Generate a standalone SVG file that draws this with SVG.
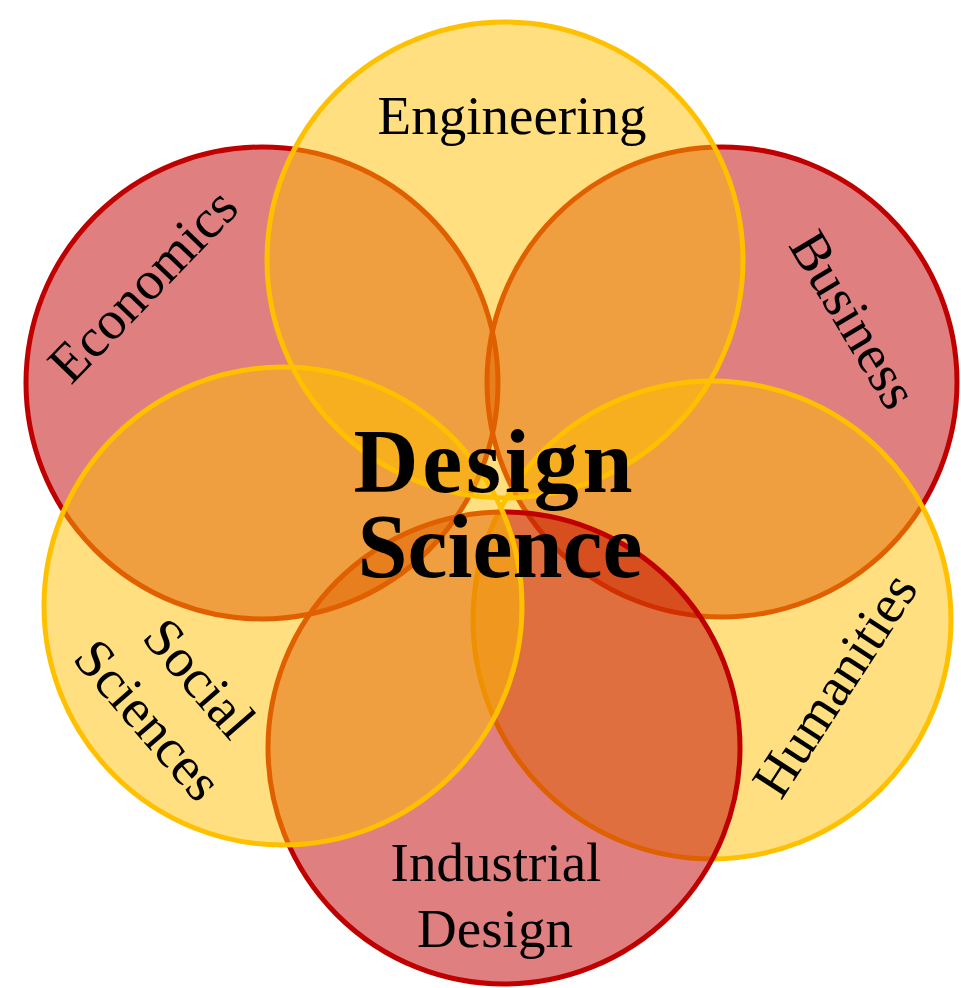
<svg xmlns="http://www.w3.org/2000/svg" width="961" height="988" viewBox="0 0 961 988">
  <style>
    .ring { stroke-width: 5; fill-opacity: 0.5; }
    .red { fill: #C00000; stroke: #C00000; }
    .yellow { fill: #FFC000; stroke: #FFC000; }
    .label { font-family: "Liberation Serif", "Times New Roman", serif; font-size: 55px; fill: #000; text-anchor: middle; }
    .title { font-family: "Liberation Serif", "Times New Roman", serif; font-size: 90px; font-weight: bold; fill: #000; text-anchor: middle; }
  </style>
  <rect width="961" height="988" fill="#FFFFFF"/>

  <!-- petals, drawn bottom to top -->
  <g id="economics">
    <circle class="ring red" cx="262" cy="383" r="236"/>
    <text class="label" transform="translate(156,298) rotate(-46)">Economics</text>
  </g>
  <g id="business">
    <circle class="ring red" cx="722" cy="382" r="235"/>
    <text class="label" transform="translate(838,329) rotate(59)">Business</text>
  </g>
  <g id="engineering">
    <circle class="ring yellow" cx="505" cy="260" r="238"/>
    <text class="label" x="512" y="134">Engineering</text>
  </g>
  <g id="humanities">
    <circle class="ring yellow" cx="712" cy="620" r="239"/>
    <text class="label" transform="translate(850,695) rotate(-57)">Humanities</text>
  </g>
  <g id="industrial-design">
    <circle class="ring red" cx="504" cy="748" r="236"/>
    <text class="label" x="496" y="881">Industrial</text>
    <text class="label" x="495" y="947">Design</text>
  </g>
  <g id="social-sciences">
    <circle class="ring yellow" cx="283" cy="606" r="239"/>
    <g transform="translate(160,711) rotate(49)">
      <text class="label" x="1" y="-33">Social</text>
      <text class="label" x="-1" y="33">Sciences</text>
    </g>
  </g>

  <!-- central title -->
  <g id="design-science">
    <text class="title" x="493" y="492" textLength="279" lengthAdjust="spacing">Design</text>
    <text class="title" x="500" y="577">Science</text>
  </g>
</svg>
